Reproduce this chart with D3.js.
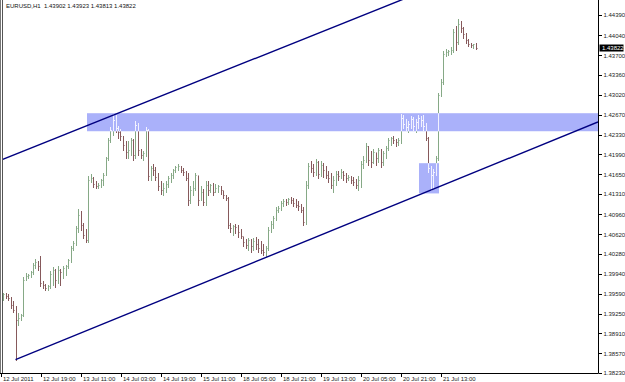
<!DOCTYPE html>
<html><head><meta charset="utf-8">
<script src="https://cdn.jsdelivr.net/npm/d3@7"></script>
<style>
body{margin:0;background:#fff}
svg{display:block}
text{font-family:"Liberation Sans",Arial,sans-serif}
</style>
</head><body>
<svg id="c" width="625" height="382"></svg>
<script>
const symbol = "EURUSD,H1";
const opens = [1.3955,1.3959,1.3955,1.3952,1.3940,1.3931,1.3914,1.3918,1.3923,1.3983,
1.3990,1.3992,1.3997,1.4009,1.4014,1.4007,1.3978,1.3974,1.3969,1.3973,
1.3993,1.4000,1.3983,1.4000,1.3997,1.4004,1.4007,1.4017,1.4038,1.4047,
1.4072,1.4095,1.4078,1.4060,1.4052,1.4155,1.4158,1.4148,1.4145,1.4146,
1.4155,1.4164,1.4193,1.4224,1.4241,1.4258,1.4245,1.4238,1.4231,1.4215,
1.4203,1.4207,1.4224,1.4198,1.4250,1.4207,1.4198,1.4202,1.4241,1.4162,
1.4176,1.4172,1.4160,1.4145,1.4138,1.4141,1.4148,1.4158,1.4164,1.4172,
1.4177,1.4179,1.4172,1.4169,1.4158,1.4121,1.4138,1.4141,1.4164,1.4121,
1.4134,1.4117,1.4146,1.4138,1.4146,1.4134,1.4141,1.4145,1.4138,1.4129,
1.4124,1.4078,1.4072,1.4076,1.4074,1.4066,1.4059,1.4048,1.4043,1.4052,
1.4042,1.4050,1.4045,1.4038,1.4035,1.4031,1.4038,1.4069,1.4079,1.4090,
1.4103,1.4107,1.4116,1.4119,1.4117,1.4122,1.4121,1.4116,1.4112,1.4110,
1.4103,1.4083,1.4146,1.4179,1.4176,1.4169,1.4186,1.4165,1.4181,1.4172,
1.4164,1.4158,1.4146,1.4155,1.4165,1.4162,1.4169,1.4164,1.4158,1.4160,
1.4155,1.4152,1.4146,1.4155,1.4183,1.4190,1.4214,1.4190,1.4186,1.4203,
1.4193,1.4207,1.4186,1.4202,1.4210,1.4224,1.4227,1.4224,1.4220,1.4224,
1.4262,1.4251,1.4246,1.4251,1.4260,1.4248,1.4255,1.4262,1.4258,1.4248,
1.4227,1.4176,1.4164,1.4169,1.4193,1.4301,1.4324,1.4372,1.4375,1.4377,
1.4379,1.4410,1.4393,1.4424,1.4417,1.4406,1.4396,1.4389,1.4387,1.43902];
const highs = [1.3962,1.3962,1.3961,1.3955,1.3949,1.3940,1.3928,1.3926,1.3990,1.3997,
1.3995,1.4000,1.4014,1.4021,1.4017,1.4026,1.3983,1.3978,1.3976,1.4000,
1.4007,1.4004,1.4009,1.4004,1.4009,1.4011,1.4021,1.4043,1.4052,1.4078,
1.4107,1.4103,1.4083,1.4072,1.4164,1.4167,1.4162,1.4155,1.4152,1.4158,
1.4169,1.4196,1.4229,1.4248,1.4270,1.4269,1.4250,1.4245,1.4233,1.4224,
1.4224,1.4229,1.4227,1.4258,1.4255,1.4210,1.4207,1.4248,1.4245,1.4181,
1.4184,1.4179,1.4169,1.4155,1.4152,1.4155,1.4164,1.4169,1.4176,1.4181,
1.4184,1.4181,1.4177,1.4172,1.4169,1.4146,1.4155,1.4169,1.4164,1.4146,
1.4141,1.4155,1.4155,1.4150,1.4152,1.4150,1.4148,1.4146,1.4138,1.4131,
1.4128,1.4083,1.4079,1.4081,1.4079,1.4072,1.4059,1.4055,1.4057,1.4055,
1.4057,1.4059,1.4055,1.4052,1.4047,1.4043,1.4076,1.4086,1.4095,1.4110,
1.4112,1.4121,1.4124,1.4124,1.4126,1.4128,1.4126,1.4124,1.4121,1.4116,
1.4110,1.4155,1.4186,1.4190,1.4184,1.4193,1.4190,1.4190,1.4186,1.4181,
1.4172,1.4169,1.4164,1.4172,1.4172,1.4176,1.4172,1.4169,1.4165,1.4164,
1.4162,1.4158,1.4164,1.4190,1.4198,1.4220,1.4215,1.4207,1.4210,1.4203,
1.4212,1.4210,1.4207,1.4215,1.4229,1.4231,1.4233,1.4227,1.4229,1.4270,
1.4269,1.4262,1.4258,1.4267,1.4265,1.4262,1.4269,1.4267,1.4269,1.4255,
1.4231,1.4181,1.4176,1.4198,1.4307,1.4331,1.4379,1.4382,1.4380,1.4386,
1.4417,1.4422,1.4434,1.4430,1.4420,1.4410,1.4399,1.4393,1.4391,1.43923];
const lows = [1.3949,1.3952,1.3949,1.3935,1.3928,1.3845,1.3906,1.3914,1.3921,1.3983,
1.3986,1.3988,1.3993,1.4004,1.4000,1.3973,1.3969,1.3966,1.3966,1.3969,
1.3974,1.3971,1.3978,1.3974,1.3986,1.3992,1.4004,1.4014,1.4035,1.4043,
1.4066,1.4069,1.4055,1.4048,1.4048,1.4152,1.4143,1.4141,1.4141,1.4143,
1.4146,1.4164,1.4190,1.4220,1.4233,1.4238,1.4227,1.4224,1.4207,1.4193,
1.4193,1.4198,1.4190,1.4193,1.4198,1.4193,1.4190,1.4196,1.4155,1.4155,
1.4164,1.4155,1.4138,1.4131,1.4129,1.4134,1.4143,1.4152,1.4158,1.4169,
1.4172,1.4169,1.4164,1.4155,1.4112,1.4116,1.4129,1.4138,1.4112,1.4121,
1.4112,1.4112,1.4129,1.4134,1.4129,1.4134,1.4134,1.4131,1.4124,1.4121,
1.4072,1.4066,1.4060,1.4064,1.4057,1.4055,1.4042,1.4038,1.4035,1.4031,
1.4035,1.4036,1.4031,1.4030,1.4026,1.4024,1.4035,1.4066,1.4072,1.4086,
1.4100,1.4103,1.4110,1.4112,1.4114,1.4116,1.4110,1.4109,1.4103,1.4100,
1.4078,1.4079,1.4141,1.4169,1.4162,1.4164,1.4158,1.4162,1.4160,1.4158,
1.4152,1.4141,1.4134,1.4146,1.4155,1.4158,1.4155,1.4152,1.4155,1.4150,
1.4146,1.4141,1.4138,1.4143,1.4176,1.4186,1.4181,1.4177,1.4184,1.4181,
1.4186,1.4177,1.4181,1.4193,1.4207,1.4215,1.4219,1.4214,1.4215,1.4219,
1.4245,1.4241,1.4238,1.4245,1.4241,1.4238,1.4245,1.4248,1.4241,1.4224,
1.4169,1.4138,1.4141,1.4164,1.4190,1.4300,1.4320,1.4368,1.4370,1.4372,
1.4375,1.4379,1.4389,1.4410,1.4399,1.4391,1.4386,1.4384,1.4382,1.43813];
const closes = [1.3959,1.3955,1.3952,1.3940,1.3931,1.3914,1.3918,1.3923,1.3983,1.3990,
1.3992,1.3997,1.4009,1.4014,1.4007,1.3978,1.3974,1.3969,1.3973,1.3993,
1.4000,1.3983,1.4000,1.3997,1.4004,1.4007,1.4017,1.4038,1.4047,1.4072,
1.4095,1.4078,1.4060,1.4052,1.4155,1.4158,1.4148,1.4145,1.4146,1.4155,
1.4164,1.4193,1.4224,1.4241,1.4258,1.4245,1.4238,1.4231,1.4215,1.4203,
1.4207,1.4224,1.4198,1.4250,1.4207,1.4198,1.4202,1.4241,1.4162,1.4176,
1.4172,1.4160,1.4145,1.4138,1.4141,1.4148,1.4158,1.4164,1.4172,1.4177,
1.4179,1.4172,1.4169,1.4158,1.4121,1.4138,1.4141,1.4164,1.4121,1.4134,
1.4117,1.4146,1.4138,1.4146,1.4134,1.4141,1.4145,1.4138,1.4129,1.4124,
1.4078,1.4072,1.4076,1.4074,1.4066,1.4059,1.4048,1.4043,1.4052,1.4042,
1.4050,1.4045,1.4038,1.4035,1.4031,1.4038,1.4069,1.4079,1.4090,1.4103,
1.4107,1.4116,1.4119,1.4117,1.4122,1.4121,1.4116,1.4112,1.4110,1.4103,
1.4083,1.4146,1.4179,1.4176,1.4169,1.4186,1.4165,1.4181,1.4172,1.4164,
1.4158,1.4146,1.4155,1.4165,1.4162,1.4169,1.4164,1.4158,1.4160,1.4155,
1.4152,1.4146,1.4155,1.4183,1.4190,1.4214,1.4190,1.4186,1.4203,1.4193,
1.4207,1.4186,1.4202,1.4210,1.4224,1.4227,1.4224,1.4220,1.4224,1.4262,
1.4251,1.4246,1.4251,1.4260,1.4248,1.4255,1.4262,1.4258,1.4248,1.4227,
1.4176,1.4164,1.4169,1.4193,1.4301,1.4324,1.4372,1.4375,1.4377,1.4379,
1.4410,1.4393,1.4424,1.4417,1.4406,1.4396,1.4389,1.4387,1.4389,1.43822];
const timeLabels = ["12 Jul 2011","12 Jul 19:00","13 Jul 11:00","14 Jul 03:00","14 Jul 19:00","15 Jul 11:00","18 Jul 05:00","18 Jul 21:00","19 Jul 13:00","20 Jul 05:00","20 Jul 21:00","21 Jul 13:00"];
const barsPerLabel = 16;
const priceTicks = [1.44390,1.44040,1.43700,1.43360,1.43020,1.42670,1.42330,1.41990,1.41650,1.41310,1.40960,1.40620,1.40280,1.39940,1.39590,1.39250,1.38910,1.38570,1.38230];
const upperLine = [{i:-0.4,p:1.4190},{i:160,p:1.4466}];
const lowerLine = [{i:5,p:1.3846},{i:238,p:1.4255}];
const zoneBand = {i0:33.6, p0:1.4270, p1:1.4239};
const zoneBox = {i0:166.4, i1:174.4, p0:1.4184, p1:1.4132};

const W = 625, H = 382;
const L = 3, R = 598, T = 0, B = 373;
const upColor = "#86a986", downColor = "#86595b";

const svg = d3.select("#c");
const x = d3.scaleLinear().domain([0, opens.length - 1]).range([3, 3 + 2.5 * (opens.length - 1)]);
const y = d3.scaleLinear().domain([priceTicks[priceTicks.length-1], priceTicks[0]]).range([373, 15]);

const defs = svg.append("defs");
defs.append("clipPath").attr("id","plot").append("rect")
  .attr("x", L).attr("y", T).attr("width", R - L).attr("height", B - T);
const zc = defs.append("clipPath").attr("id","zones");
zc.append("rect").attr("x", x(zoneBand.i0)).attr("y", y(zoneBand.p0))
  .attr("width", R - x(zoneBand.i0)).attr("height", y(zoneBand.p1) - y(zoneBand.p0));
zc.append("rect").attr("x", x(zoneBox.i0)).attr("y", y(zoneBox.p0))
  .attr("width", x(zoneBox.i1) - x(zoneBox.i0)).attr("height", y(zoneBox.p1) - y(zoneBox.p0));

const bars = opens.map((o, i) => ({i, o, h: highs[i], l: lows[i], c: closes[i]}));
const sn = v => Math.round(v) + 0.5;
const stemPath = d => {
  const px = sn(x(d.i));
  return `M${px},${sn(y(d.h))}V${sn(y(d.l))}`;
};
const tickPath = d => {
  const px = sn(x(d.i));
  return `M${px-1},${sn(y(d.o))}H${px}M${px},${sn(y(d.c))}H${px+1}`;
};
const barColor = d => d.c >= d.o ? upColor : downColor;

const plot = svg.append("g").attr("clip-path","url(#plot)");
const bg = plot.append("g").attr("fill","none").attr("stroke-width",1).attr("shape-rendering","crispEdges");
bg.selectAll("path.tk").data(bars).join("path").attr("class","tk")
  .attr("d", tickPath).attr("stroke", barColor).attr("stroke-opacity", 0.55);
bg.selectAll("path.st").data(bars).join("path").attr("class","st")
  .attr("d", stemPath).attr("stroke", barColor);

// zones
plot.append("rect").attr("x", x(zoneBand.i0)).attr("y", y(zoneBand.p0))
  .attr("width", R - x(zoneBand.i0)).attr("height", y(zoneBand.p1) - y(zoneBand.p0))
  .attr("fill", "#aab1fa");
plot.append("rect").attr("x", x(zoneBox.i0)).attr("y", y(zoneBox.p0))
  .attr("width", x(zoneBox.i1) - x(zoneBox.i0)).attr("height", y(zoneBox.p1) - y(zoneBox.p0))
  .attr("fill", "#aab1fa");
plot.append("g").attr("clip-path","url(#zones)").selectAll("path").data(bars).join("path")
  .attr("d", d => stemPath(d) + tickPath(d)).attr("fill","none").attr("stroke","#f2f2ff")
  .attr("stroke-width", 1).attr("shape-rendering","crispEdges");

// trend lines
const line = d3.line().x(d => x(d.i)).y(d => y(d.p));
[upperLine, lowerLine].forEach(pts => {
  plot.append("path").attr("d", line(pts)).attr("fill","none")
    .attr("stroke","#000080").attr("stroke-width",1.4);
});

// frame
svg.append("line").attr("x1",0.5).attr("x2",0.5).attr("y1",0).attr("y2",B).attr("stroke","#777");
svg.append("line").attr("x1",2.5).attr("x2",2.5).attr("y1",0).attr("y2",B).attr("stroke","#555");
svg.append("line").attr("x1",0).attr("x2",R+0.5).attr("y1",B+0.5).attr("y2",B+0.5).attr("stroke","#000");
svg.append("line").attr("x1",R+0.5).attr("x2",R+0.5).attr("y1",0).attr("y2",B+0.5).attr("stroke","#000");

// right price axis
const yAxis = d3.axisRight(y).tickValues(priceTicks).tickFormat(d3.format(".5f"))
  .tickSize(3).tickPadding(2);
const ya = svg.append("g").attr("transform", `translate(${R+0.5},0)`).call(yAxis);
ya.select(".domain").remove();
ya.selectAll(".tick line").attr("stroke","#000").attr("shape-rendering","crispEdges");
ya.selectAll(".tick text").attr("font-size","6px").attr("fill","#222")
  .attr("font-family",'"Liberation Sans",Arial,sans-serif');

// time axis
const tIdx = timeLabels.map((t, k) => k * barsPerLabel);
const xa = svg.append("g");
tIdx.forEach((idx, k) => {
  const px = Math.round(x(idx)) - 1.5;
  xa.append("line").attr("x1",px).attr("x2",px).attr("y1",B).attr("y2",B+4)
    .attr("stroke","#000").attr("shape-rendering","crispEdges");
  xa.append("text").attr("x", px + 1.5).attr("y", 380.5)
    .attr("font-size","6px").attr("fill","#222").text(timeLabels[k]);
});

// current price marker
const last = closes[closes.length-1];
svg.append("rect").attr("x", R + 1.5).attr("y", y(last) - 3.5).attr("width", 24).attr("height", 7)
  .attr("fill","#000");
svg.append("text").attr("x", R + 4).attr("y", y(last)).attr("dy","0.34em")
  .attr("font-size","6px").attr("fill","#fff").text(d3.format(".5f")(last));

// header
const fmt = d3.format(".5f");
const n = opens.length - 1;
svg.append("text").attr("x", 6).attr("y", 7.5).attr("font-size","6px").attr("fill","#111")
  .attr("xml:space","preserve").style("white-space","pre")
  .text(`${symbol}  ${fmt(opens[n])} ${fmt(highs[n])} ${fmt(lows[n])} ${fmt(closes[n])}`);
</script>
</body></html>
